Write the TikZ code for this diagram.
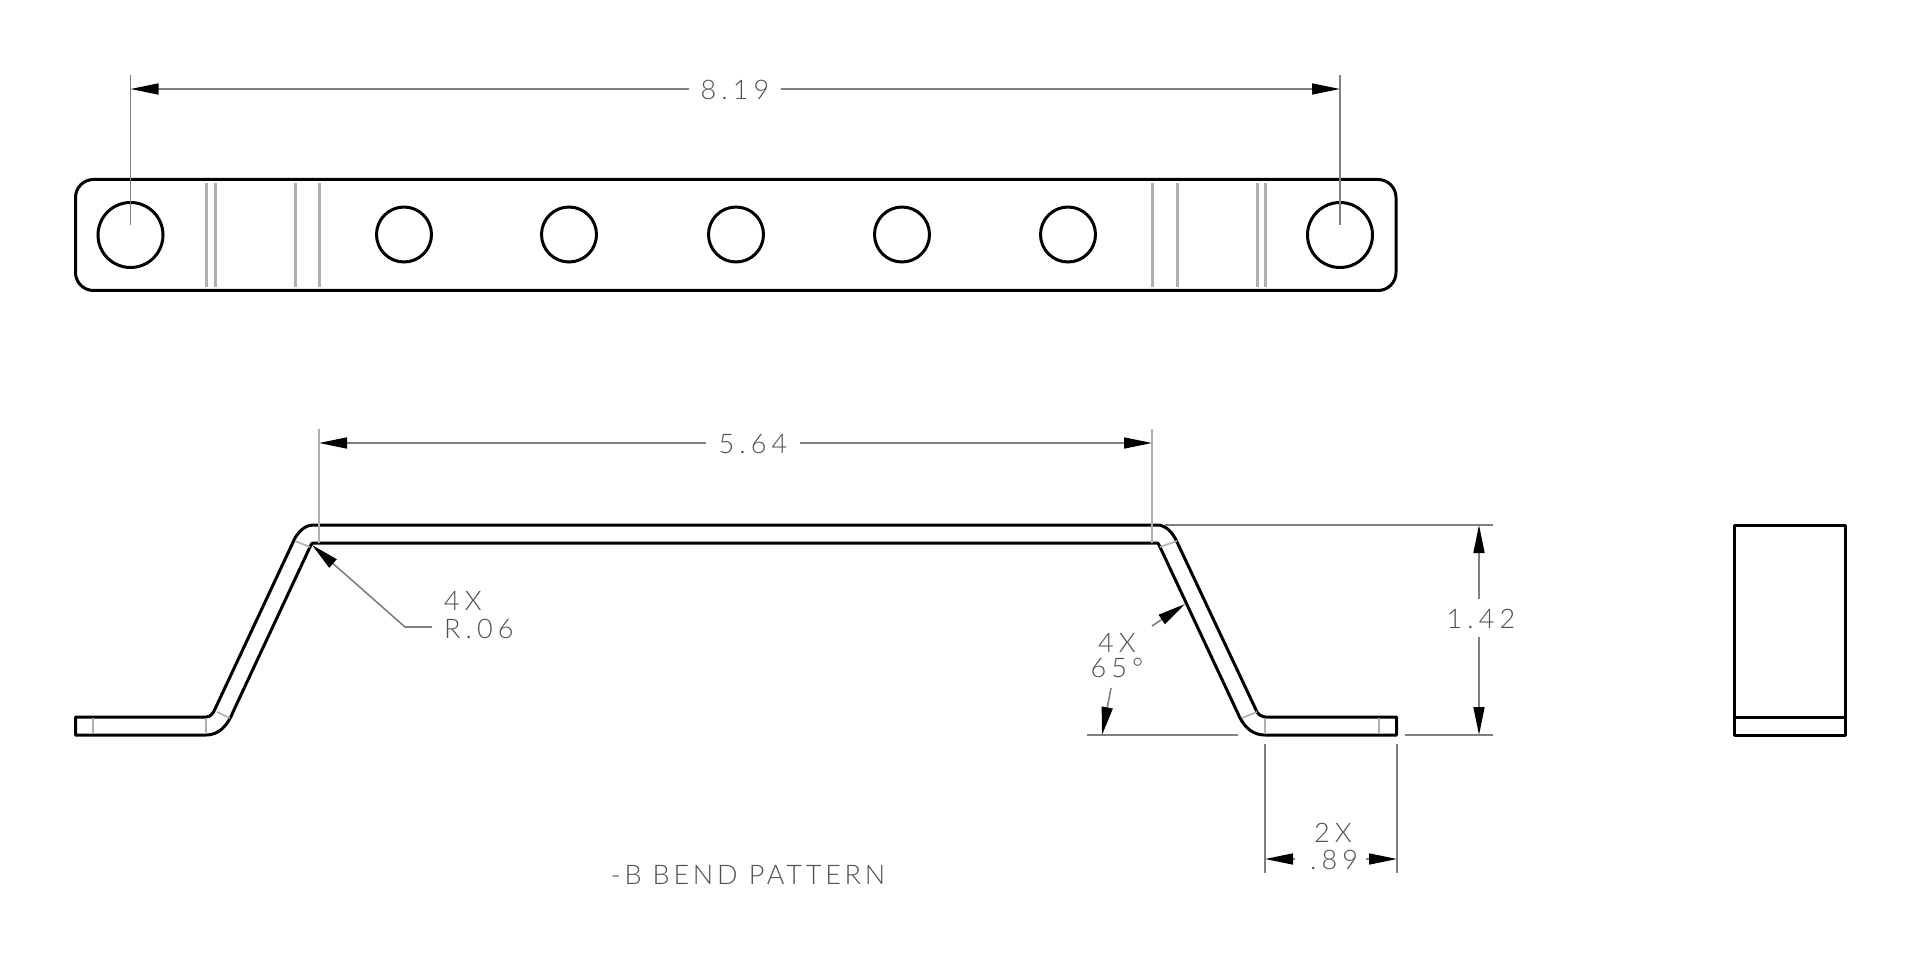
\documentclass[tikz,border=0pt]{standalone}
\usepackage{fontspec}
\setmainfont{Lato Light}[LetterSpace=19]
\newfontfamily\titlefont{Lato Light}[LetterSpace=14]
\usetikzlibrary{arrows.meta}
\definecolor{dimgray}{HTML}{808080}
\definecolor{bendgray}{HTML}{B0B0B0}
\definecolor{txtgray}{HTML}{505050}
\tikzset{
    part/.style={black, line width=3pt, line join=round},
    bendline/.style={bendgray, line width=3pt},
    thinbend/.style={bendgray, line width=1.7pt},
    dimline/.style={dimgray, line width=1.6pt},
    dimtip/.style={dimline, -{Triangle[length=28pt,width=11pt,black]}},
    dimtext/.style={txtgray, font=\fontsize{27}{30}\selectfont, inner ysep=2pt, inner xsep=0pt},
    hole/.style={circle, draw, black, line width=3pt, inner sep=0pt}
}
\begin{document}
\begin{tikzpicture}[x=1pt, y=-1pt]
    \useasboundingbox (0,0) rectangle (1920,957);

    % top view
    \draw[part, rounded corners=18pt] (75.5,179.5) rectangle (1396,290.5);
    \foreach \i/\x in {1/130.5,7/1340}{
        \node[hole, minimum size=65pt] (h\i) at (\x,235) {};
    }
    \foreach \i/\x in {2/404,3/569,4/736,5/902,6/1068}{
        \node[hole, minimum size=55pt] (h\i) at (\x,234.5) {};
    }
    \foreach \x in {206,215,295,319,1152,1177,1257,1265}{
        \draw[bendline] (\x,183) -- (\x,287);
    }

    % side view
    \draw[part] (75.5,717) -- (206,717) .. controls (210,717) and (213,714) .. (215,709)
        -- (295,538) .. controls (300,530) and (306,525) .. (313,525)
        -- (1157,525) .. controls (1165,525) and (1172,531) .. (1177,542)
        -- (1257,712) .. controls (1259,715) and (1262,717) .. (1265,717)
        -- (1396.5,717) -- (1396.5,735) -- (1265,735)
        .. controls (1254,735) and (1246,729) .. (1240,718)
        -- (1160,547) .. controls (1159,544) and (1158,543) .. (1157,543)
        -- (313,543) .. controls (312,543) and (311,544) .. (310,547)
        -- (233,712) .. controls (227,727) and (218,735) .. (206,735)
        -- (75.5,735) -- cycle;
    \draw[thinbend] (295,541) -- (310,547);
    \draw[thinbend] (217,712) -- (230,718);
    \draw[thinbend] (1160,547) -- (1177,541);
    \draw[thinbend] (1242,718) -- (1257,712);
    \foreach \x in {93,206,1265,1379}{
        \draw[thinbend] (\x,718) -- (\x,734);
    }

    % end view
    \draw[part] (1734.5,525) rectangle (1845,735);
    \draw[part] (1734.5,717) -- (1845,717);

    % 8.19
    \coordinate (a1) at (130.5,89);
    \coordinate (a2) at (1340,89);
    \coordinate (a3) at (130.5,75);
    \coordinate (a4) at (130.5,225);
    \coordinate (a5) at (1340,75);
    \coordinate (a6) at (1340,225);
    \node[dimtext, minimum width=91pt] (d819) at (735,90) {8.19};
    \draw[dimtip] (d819.west |- a1) -- (a1);
    \draw[dimtip] (d819.east |- a2) -- (a2);
    \draw[dimline] (a3) -- (a4);
    \draw[dimline] (a5) -- (a6);

    % 5.64
    \coordinate (b1) at (319,443);
    \coordinate (b2) at (1152,443);
    \node[dimtext, minimum width=93pt] (d564) at (753,444) {5.64};
    \draw[dimtip] (d564.west |- b1) -- (b1);
    \draw[dimtip] (d564.east |- b2) -- (b2);
    \draw[thinbend] (319,429) -- (319,543);
    \draw[thinbend] (1152,429) -- (1152,543);

    % 1.42
    \coordinate (c1) at (1479,525);
    \coordinate (c2) at (1479,735);
    \coordinate (c3) at (1479,599);
    \coordinate (c4) at (1479,637);
    \node[dimtext] (d142) at (1481,619) {1.42};
    \draw[dimtip] (c3) -- (c1);
    \draw[dimtip] (c4) -- (c2);
    \draw[dimline] (1165,525) -- (1493,525);
    \draw[dimline] (1405,735) -- (1493,735);
    \draw[dimline] (1087,735) -- (1238,735);

    % .89
    \coordinate (e1) at (1265,859);
    \coordinate (e2) at (1397,859);
    \coordinate (e3) at (1295,859);
    \coordinate (e4) at (1366,859);
    \node[dimtext] (d2x) at (1333,833) {2X};
    \node[dimtext] (d89) at (1334,860) {.89};
    \draw[dimtip] (e3) -- (e1);
    \draw[dimtip] (e4) -- (e2);
    \draw[dimline] (1265,744) -- (1265,873);
    \draw[dimline] (1397,744) -- (1397,873);

    % 65 deg
    \node[dimtext] (d4x) at (1117,643) {4X};
    \node[dimtext] (d65) at (1117,668) {65\textdegree};
    \coordinate (f1) at (1152,626);
    \coordinate (f2) at (1185,604);
    \coordinate (f3) at (1111,688);
    \coordinate (f4) at (1102,735);
    \draw[dimtip] (f1) -- (f2);
    \draw[dimtip] (f3) -- (f4);

    % R.06
    \node[dimtext, anchor=west] (r4x) at (444,601) {4X};
    \node[dimtext, anchor=west] (r06) at (444,629) {R.06};
    \coordinate (g1) at (432,627);
    \coordinate (g2) at (405,627);
    \coordinate (g3) at (312,545);
    \draw[dimtip] (g1) -- (g2) -- (g3);

    \node[dimtext, font=\titlefont\fontsize{27}{30}\selectfont] (title) at (748,875) {-B BEND PATTERN};
\end{tikzpicture}
\end{document}
